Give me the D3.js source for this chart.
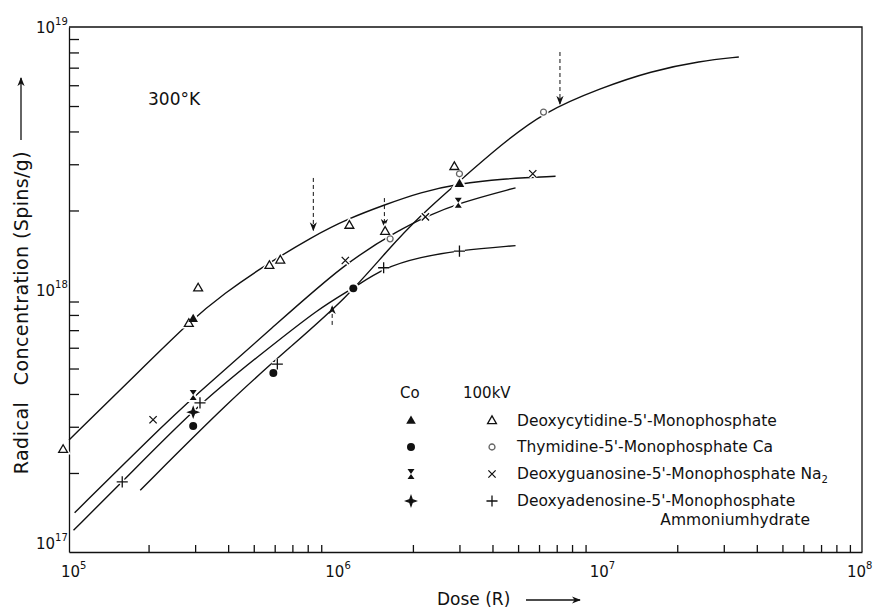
<!DOCTYPE html>
<html>
<head>
<meta charset="utf-8">
<script src="https://cdn.jsdelivr.net/npm/d3@7"></script>
<style>
  body { margin: 0; background: #fff; }
  svg { font-family: "DejaVu Sans", "Liberation Sans", sans-serif; fill: #111; }
  .curve { fill: none; stroke: #111; stroke-width: 1.4; }
  .axis path, .axis line { stroke: #111; stroke-width: 1.3; }
  .axis text { display: none; }
</style>
</head>
<body>
<svg width="877" height="613"></svg>
<script>
'use strict';

// dose (R) / concentration (spins/g)
var cytidine100 = [[0.95e5, 2.45e17], [2.84e5, 7.4e17], [3.08e5, 1.01e18], [5.73e5, 1.23e18],
    [6.3e5, 1.29e18], [1.15e6, 1.75e18], [1.57e6, 1.66e18], [2.87e6, 2.93e18]];
var cytidineCo = [[2.95e5, 7.7e17], [3.0e6, 2.52e18]];
var thymidine100 = [[6.24e6, 4.74e18], [3.0e6, 2.76e18], [1.64e6, 1.56e18]];
var thymidineCo = [[2.95e5, 3.02e17], [5.93e5, 4.81e17], [1.19e6, 1.01e18]];
var guanosine100 = [[2.08e5, 3.19e17], [1.11e6, 1.29e18], [2.23e6, 1.89e18], [5.68e6, 2.76e18]];
var guanosineCo = [[2.95e5, 3.96e17], [2.97e6, 2.14e18]];
var adenosine100 = [[1.59e5, 1.85e17], [3.13e5, 3.7e17], [6.14e5, 5.2e17], [1.55e6, 1.21e18], [3.0e6, 1.40e18]];
var adenosineCo = [[2.95e5, 3.41e17]];

// fitted curves as drawn in the figure
var cytidineCurve = [[1.0e5, 2.67e17], [1.70e5, 4.5e17], [2.95e5, 7.78e17], [3.9e5, 9.7e17],
    [5.2e5, 1.19e18], [8.4e5, 1.6e18], [1.15e6, 1.87e18], [1.56e6, 2.1e18], [2.14e6, 2.35e18],
    [3.0e6, 2.53e18], [4.3e6, 2.64e18], [6.93e6, 2.70e18]];
var thymidineCurve = [[1.86e5, 1.72e17], [4.07e5, 3.79e17], [6.87e5, 6.04e17], [1.13e6, 9.35e17],
    [1.60e6, 1.41e18], [2.14e6, 1.92e18], [3.0e6, 2.59e18], [4.30e6, 3.55e18], [6.24e6, 4.74e18],
    [1.03e7, 5.86e18], [1.59e7, 6.79e18], [2.45e7, 7.42e18], [3.42e7, 7.69e18]];
var guanosineCurve = [[1.05e5, 1.41e17], [2.08e5, 2.79e17], [2.95e5, 3.89e17], [5.77e5, 7.02e17],
    [1.11e6, 1.27e18], [1.79e6, 1.69e18], [2.23e6, 1.89e18], [3.0e6, 2.14e18], [4.89e6, 2.44e18]];
var adenosineCurve = [[1.04e5, 1.21e17], [1.59e5, 1.85e17], [3.13e5, 3.7e17], [5.28e5, 5.63e17],
    [8.93e5, 8.57e17], [1.19e6, 1.01e18], [1.55e6, 1.21e18], [2.14e6, 1.33e18], [3.0e6, 1.41e18],
    [4.89e6, 1.47e18]];

// dashed arrows: dose, from, to
var arrows = [[8.4e5, 2.66e18, 1.68e18], [1.56e6, 2.23e18, 1.73e18], [7.2e6, 8.03e18, 5.09e18],
    [9.9e5, 7.33e17, 8.65e17]];

var xDecades = [5, 6, 7, 8];
var yDecades = [17, 18, 19];
var legendNames = ['Deoxycytidine-5\'-Monophosphate', 'Thymidine-5\'-Monophosphate Ca',
    'Deoxyguanosine-5\'-Monophosphate Na', 'Deoxyadenosine-5\'-Monophosphate'];

var svg = d3.select('svg');
var plotLeft = 69, plotRight = 862, plotTop = 27, plotBottom = 552;

var x = d3.scaleLog().domain([1e5, 1e8]).range([plotLeft, plotRight]);
var y = d3.scaleLog().domain([1e17, 1e19]).range([plotBottom, plotTop]);

function minors(lo, hi) {
    var out = [];
    for (var e = lo; e < hi; e++) {
        for (var m = 2; m <= 9; m++) out.push(m * Math.pow(10, e));
    }
    return out;
}

// axes, ticks pointing inward
svg.append('g')
    .attr('class', 'axis')
    .attr('transform', 'translate(0,' + plotBottom + ')')
    .call(d3.axisBottom(x).tickValues(minors(5, 8)).tickSizeInner(-7).tickSizeOuter(0));
svg.append('g')
    .attr('class', 'axis')
    .attr('transform', 'translate(' + plotLeft + ',0)')
    .call(d3.axisLeft(y).tickValues(minors(17, 19)).tickSizeInner(-10).tickSizeOuter(0));
svg.append('path')
    .attr('d', 'M' + plotLeft + ',' + plotTop + 'H' + plotRight + 'V' + plotBottom)
    .attr('fill', 'none').attr('stroke', '#111').attr('stroke-width', 1.3);

// tick labels as powers of ten
var xl = svg.selectAll('.xlab').data(xDecades).enter().append('text')
    .attr('class', 'xlab')
    .attr('x', function(d) { return x(Math.pow(10, d)) - (d === 8 ? 15 : 8); })
    .attr('y', 577)
    .style('font-size', '15px');
xl.append('tspan').text('10');
xl.append('tspan').attr('dy', -8).style('font-size', '10px').text(function(d) { return d; });

var yl = svg.selectAll('.ylab').data(yDecades).enter().append('text')
    .attr('class', 'ylab')
    .attr('x', 36)
    .attr('y', function(d) { return y(Math.pow(10, d)) + (d === 17 ? -3 : 6); })
    .style('font-size', '15px');
yl.append('tspan').text('10');
yl.append('tspan').attr('dy', -8).style('font-size', '10px').text(function(d) { return d; });

// axis titles
var defs = svg.append('defs');
defs.append('marker')
    .attr('id', 'head')
    .attr('viewBox', '0 0 10 10')
    .attr('refX', 9).attr('refY', 5)
    .attr('markerWidth', 9).attr('markerHeight', 9)
    .attr('markerUnits', 'userSpaceOnUse')
    .attr('orient', 'auto')
    .append('path').attr('d', 'M0,1L10,5L0,9L3,5Z').attr('fill', '#111');

svg.append('text')
    .attr('transform', 'translate(28,438) rotate(-90)')
    .attr('text-anchor', 'middle')
    .style('font-size', '19px')
    .style('letter-spacing', '0.5px')
    .text('Radical');
svg.append('text')
    .attr('transform', 'translate(28,268) rotate(-90)')
    .attr('text-anchor', 'middle')
    .style('font-size', '19px')
    .style('letter-spacing', '0.4px')
    .text('Concentration (Spins/g)');
svg.append('line')
    .attr('x1', 21).attr('y1', 140).attr('x2', 21).attr('y2', 78)
    .attr('stroke', '#111').attr('stroke-width', 1.3)
    .attr('marker-end', 'url(#head)');

svg.append('text')
    .attr('x', 437).attr('y', 605)
    .style('font-size', '17px')
    .text('Dose (R)');
svg.append('line')
    .attr('x1', 526).attr('y1', 600).attr('x2', 580).attr('y2', 600)
    .attr('stroke', '#111').attr('stroke-width', 1.3)
    .attr('marker-end', 'url(#head)');

svg.append('text')
    .attr('x', 148).attr('y', 105)
    .style('font-size', '17px')
    .text('300°K');

// curves
var line = d3.line()
    .x(function(d) { return x(d[0]); })
    .y(function(d) { return y(d[1]); })
    .curve(d3.curveBasis);

svg.selectAll('.curve')
    .data([cytidineCurve, thymidineCurve, guanosineCurve, adenosineCurve])
    .enter().append('path')
    .attr('class', 'curve')
    .attr('d', line);

// dashed arrows
svg.selectAll('.arrow')
    .data(arrows)
    .enter().append('line')
    .attr('class', 'arrow')
    .attr('x1', function(d) { return x(d[0]); })
    .attr('x2', function(d) { return x(d[0]); })
    .attr('y1', function(d) { return y(d[1]); })
    .attr('y2', function(d) { return y(d[2]); })
    .attr('stroke', '#111').attr('stroke-width', 1)
    .attr('stroke-dasharray', '4,3')
    .attr('marker-end', 'url(#head)');

// marker shapes
var shapes = {
    openTri: {d: d3.symbol(d3.symbolTriangle, 34)(), fill: '#fff', stroke: '#111'},
    fillTri: {d: d3.symbol(d3.symbolTriangle, 40)(), fill: '#111', stroke: 'none'},
    openCirc: {d: d3.symbol(d3.symbolCircle, 28)(), fill: '#fff', stroke: '#666'},
    fillCirc: {d: d3.symbol(d3.symbolCircle, 50)(), fill: '#111', stroke: 'none'},
    times: {d: d3.symbol(d3.symbolTimes, 36)(), fill: 'none', stroke: '#111'},
    plus: {d: d3.symbol(d3.symbolPlus, 42)(), fill: 'none', stroke: '#111'},
    hourglass: {d: 'M-3.5,-5H3.5L0,0L3.5,5H-3.5L0,0Z', fill: '#111', stroke: 'none'},
    star: {d: 'M0,-5L1.3,-1.3L5,0L1.3,1.3L0,5L-1.3,1.3L-5,0L-1.3,-1.3Z', fill: '#111', stroke: '#111'}
};

var pointSets = [
    [cytidine100, 'openTri'], [cytidineCo, 'fillTri'],
    [thymidine100, 'openCirc'], [thymidineCo, 'fillCirc'],
    [guanosine100, 'times'], [guanosineCo, 'hourglass'],
    [adenosine100, 'plus'], [adenosineCo, 'star']
];

function place(d) { return 'translate(' + x(d[0]) + ',' + y(d[1]) + ')'; }

// white halos first: they break the curves around each mark, as in the print
var halos = svg.append('g');
var marks = svg.append('g');
pointSets.forEach(function(set) {
    var s = shapes[set[1]];
    halos.selectAll(null)
        .data(set[0])
        .enter().append('path')
        .attr('transform', place)
        .attr('d', s.d)
        .attr('fill', '#fff')
        .attr('stroke', '#fff')
        .attr('stroke-width', 4);
    marks.selectAll(null)
        .data(set[0])
        .enter().append('path')
        .attr('transform', place)
        .attr('d', s.d)
        .attr('fill', s.fill)
        .attr('stroke', s.stroke)
        .attr('stroke-width', 1.3);
});

// legend
var lg = svg.append('g');
lg.append('text').attr('x', 400).attr('y', 398).style('font-size', '15px').text('Co');
lg.append('text').attr('x', 463).attr('y', 398).style('font-size', '15px').text('100kV');

var coShapes = ['fillTri', 'fillCirc', 'hourglass', 'star'];
var kvShapes = ['openTri', 'openCirc', 'times', 'plus'];
var rowY = [421, 447, 474, 501];

legendNames.forEach(function(name, i) {
    lg.append('path')
        .attr('transform', 'translate(411,' + rowY[i] + ')')
        .attr('d', shapes[coShapes[i]].d)
        .attr('fill', shapes[coShapes[i]].fill)
        .attr('stroke', shapes[coShapes[i]].stroke)
        .attr('stroke-width', 1.3);
    lg.append('path')
        .attr('transform', 'translate(492,' + rowY[i] + ')')
        .attr('d', shapes[kvShapes[i]].d)
        .attr('fill', shapes[kvShapes[i]].fill)
        .attr('stroke', shapes[kvShapes[i]].stroke)
        .attr('stroke-width', 1.3);
    var t = lg.append('text')
        .attr('x', 517).attr('y', rowY[i] + 5)
        .style('font-size', '15.5px')
        .text(name);
    if (i === 2) t.append('tspan').attr('dy', 4).style('font-size', '10px').text('2');
});
lg.append('text')
    .attr('x', 810).attr('y', 525)
    .attr('text-anchor', 'end')
    .style('font-size', '15.5px')
    .text('Ammoniumhydrate');
</script>
</body>
</html>
